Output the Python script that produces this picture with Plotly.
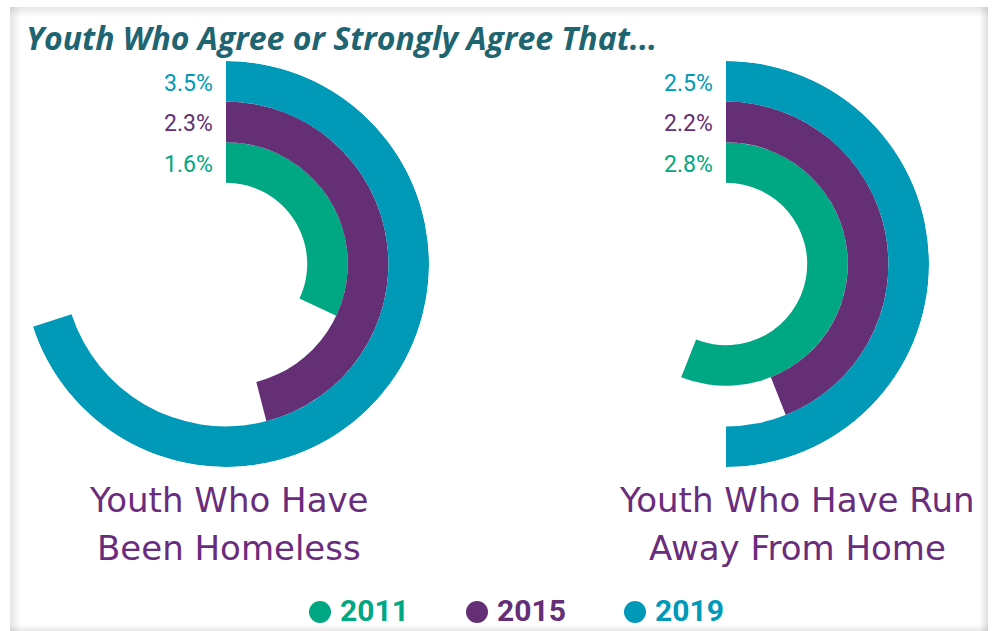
import plotly.graph_objects as go

# ---- data -------------------------------------------------------------
YEARS = ["2011", "2015", "2019"]
HOMELESS = [1.6, 2.3, 3.5]      # % agree / strongly agree
RUN_AWAY = [2.8, 2.2, 2.5]
FULL_CIRCLE_PCT = 5.0           # percentage that would close a full ring
PANEL_TITLES = [["Youth Who Have", "Been Homeless"],
                ["Youth Who Have Run", "Away From Home"]]
TITLE = "Youth Who Agree or Strongly Agree That..."

# ---- style ------------------------------------------------------------
COLORS = ["#00A783", "#642F74", "#0099B7"]
TITLE_COLOR = "#1E6471"
LABEL_COLOR = "#6A2C7C"
W, H = 993, 631
CENTERS = [(226, 264), (726, 264)]
RADIUS = 203
NUM_FONT = "Roboto, sans-serif"


def fx(px):
    return px / W


def fy(py):
    return 1 - py / H


fig = go.Figure()
annotations = []
shapes = []

for k, (values, (cx, cy)) in enumerate(zip([HOMELESS, RUN_AWAY], CENTERS)):
    pname = "polar" if k == 0 else "polar2"
    for i, (year, v) in enumerate(zip(YEARS, values)):
        span = v / FULL_CIRCLE_PCT * 360
        fig.add_trace(go.Barpolar(
            r=[1], base=[2 + i], theta=[span / 2], width=[span],
            marker=dict(color=COLORS[i], line=dict(width=0)),
            name=year, showlegend=False, subplot=pname,
            hovertemplate=f"{year}: {v}%<extra></extra>",
        ))
        # value label to the left of the ring start
        ring_mid = RADIUS * (2 + i + 0.5) / 5
        annotations.append(dict(
            x=fx(cx - 11), y=fy(cy - ring_mid + 2), xref="paper", yref="paper",
            text=f"{v}%", showarrow=False, xanchor="right", yanchor="middle",
            font=dict(family=NUM_FONT, size=23, color=COLORS[i]),
        ))
    polar = dict(
        domain=dict(x=[fx(cx - RADIUS), fx(cx + RADIUS)],
                    y=[fy(cy + RADIUS), fy(cy - RADIUS)]),
        bgcolor="rgba(0,0,0,0)",
        radialaxis=dict(range=[0, 5], visible=False),
        angularaxis=dict(rotation=90, direction="clockwise", visible=False),
        bargap=0,
    )
    fig.update_layout(**{pname: polar})

# panel captions
caption_x = [229, 797]
for (l1, l2), x in zip(PANEL_TITLES, caption_x):
    for line, y in ((l1, 500), (l2, 548)):
        annotations.append(dict(
            x=fx(x), y=fy(y), xref="paper", yref="paper", text=line,
            showarrow=False, xanchor="center", yanchor="middle",
            font=dict(family="DejaVu Sans, sans-serif", size=34, color=LABEL_COLOR),
        ))

# title
annotations.append(dict(
    x=fx(24), y=fy(37), xref="paper", yref="paper",
    text=f"<b><i>{TITLE}</i></b>", showarrow=False,
    xanchor="left", yanchor="middle",
    font=dict(family="Open Sans, sans-serif", size=32, color=TITLE_COLOR),
))

# legend: dots + year labels
legend_dot_x = [320, 477, 635]
for year, color, dx in zip(YEARS, COLORS, legend_dot_x):
    shapes.append(dict(type="circle", xref="paper", yref="paper",
                       x0=fx(dx - 11), x1=fx(dx + 11),
                       y0=fy(612 + 11), y1=fy(612 - 11),
                       fillcolor=color, line=dict(width=0)))
    annotations.append(dict(
        x=fx(dx + 18), y=fy(610), xref="paper", yref="paper",
        text=f"<b>{year}</b>", showarrow=False, xanchor="left", yanchor="middle",
        font=dict(family=NUM_FONT, size=30, color=color),
    ))

# soft inner shadow on the panel frame
for j in range(10):
    a = 0.18 * (1 - j / 10)
    col = f"rgba(120,120,120,{a:.3f})"
    shapes.append(dict(type="rect", xref="paper", yref="paper",
                       x0=fx(10 + j), x1=fx(11 + j), y0=fy(631), y1=fy(7),
                       fillcolor=col, line=dict(width=0), layer="below"))
    shapes.append(dict(type="rect", xref="paper", yref="paper",
                       x0=fx(10), x1=fx(988), y0=fy(8 + j), y1=fy(7 + j),
                       fillcolor=col, line=dict(width=0), layer="below"))
for j in range(8):
    a = 0.22 * (1 - j / 8)
    col = f"rgba(120,120,120,{a:.3f})"
    shapes.append(dict(type="rect", xref="paper", yref="paper",
                       x0=fx(987 - j), x1=fx(988 - j), y0=fy(631), y1=fy(7),
                       fillcolor=col, line=dict(width=0), layer="below"))
for j in range(6):
    a = 0.16 * (1 - j / 6)
    col = f"rgba(120,120,120,{a:.3f})"
    shapes.append(dict(type="rect", xref="paper", yref="paper",
                       x0=fx(10), x1=fx(988), y0=fy(631 - j), y1=fy(630 - j),
                       fillcolor=col, line=dict(width=0), layer="below"))

fig.update_layout(
    width=W, height=H, margin=dict(l=0, r=0, t=0, b=0),
    paper_bgcolor="white", plot_bgcolor="white",
    annotations=annotations, shapes=shapes, showlegend=False,
)

fig.write_html("out.html")
